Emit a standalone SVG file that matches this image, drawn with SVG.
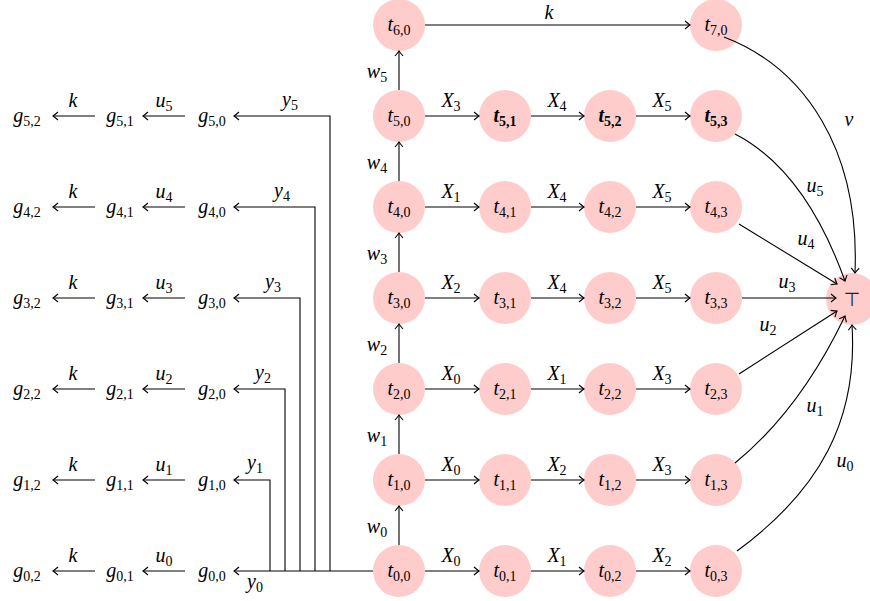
<svg xmlns="http://www.w3.org/2000/svg" width="870" height="601" viewBox="0 0 870 601" font-family="'Liberation Serif','DejaVu Serif',serif">
<style>
.n{fill:#ffcccc}
.t{font-family:'Liberation Serif','DejaVu Serif',serif;font-size:20px;text-anchor:middle;fill:#000}
.i{font-style:italic}
.s{font-size:14px;font-style:normal}
.b{font-weight:bold}
.c line,.c path{stroke:#000;stroke-width:1.1;fill:none;marker-end:url(#ar)}
</style>
<defs>
<marker id="ar" markerUnits="userSpaceOnUse" markerWidth="12" markerHeight="12" viewBox="-7 -6 9 12" refX="0" refY="0" orient="auto" overflow="visible">
<path d="M-5,-4 Q-1.5,-1 0,0 Q-1.5,1 -5,4" fill="none" stroke="#000" stroke-width="1.1"/>
</marker>
</defs>
<rect width="870" height="601" fill="#fff"/>

<g id="nodes">
<g id="t60"><circle class="n" cx="399" cy="25" r="26"/><text class="t" x="399" y="31"><tspan class="i">t</tspan><tspan class="s" dy="4">6,0</tspan></text></g>
<g id="t70"><circle class="n" cx="716" cy="25" r="26"/><text class="t" x="716" y="31"><tspan class="i">t</tspan><tspan class="s" dy="4">7,0</tspan></text></g>
<g id="t50"><circle class="n" cx="399" cy="116" r="26"/><text class="t" x="399" y="122"><tspan class="i">t</tspan><tspan class="s" dy="4">5,0</tspan></text></g>
<g id="t51"><circle class="n" cx="505" cy="116" r="26"/><text class="t b" x="505" y="122"><tspan class="i">t</tspan><tspan class="s" dy="4">5,1</tspan></text></g>
<g id="t52"><circle class="n" cx="610" cy="116" r="26"/><text class="t b" x="610" y="122"><tspan class="i">t</tspan><tspan class="s" dy="4">5,2</tspan></text></g>
<g id="t53"><circle class="n" cx="716" cy="116" r="26"/><text class="t b" x="716" y="122"><tspan class="i">t</tspan><tspan class="s" dy="4">5,3</tspan></text></g>
<g id="t40"><circle class="n" cx="399" cy="207" r="26"/><text class="t" x="399" y="213"><tspan class="i">t</tspan><tspan class="s" dy="4">4,0</tspan></text></g>
<g id="t41"><circle class="n" cx="505" cy="207" r="26"/><text class="t" x="505" y="213"><tspan class="i">t</tspan><tspan class="s" dy="4">4,1</tspan></text></g>
<g id="t42"><circle class="n" cx="610" cy="207" r="26"/><text class="t" x="610" y="213"><tspan class="i">t</tspan><tspan class="s" dy="4">4,2</tspan></text></g>
<g id="t43"><circle class="n" cx="716" cy="207" r="26"/><text class="t" x="716" y="213"><tspan class="i">t</tspan><tspan class="s" dy="4">4,3</tspan></text></g>
<g id="t30"><circle class="n" cx="399" cy="298" r="26"/><text class="t" x="399" y="304"><tspan class="i">t</tspan><tspan class="s" dy="4">3,0</tspan></text></g>
<g id="t31"><circle class="n" cx="505" cy="298" r="26"/><text class="t" x="505" y="304"><tspan class="i">t</tspan><tspan class="s" dy="4">3,1</tspan></text></g>
<g id="t32"><circle class="n" cx="610" cy="298" r="26"/><text class="t" x="610" y="304"><tspan class="i">t</tspan><tspan class="s" dy="4">3,2</tspan></text></g>
<g id="t33"><circle class="n" cx="716" cy="298" r="26"/><text class="t" x="716" y="304"><tspan class="i">t</tspan><tspan class="s" dy="4">3,3</tspan></text></g>
<g id="t20"><circle class="n" cx="399" cy="389" r="26"/><text class="t" x="399" y="395"><tspan class="i">t</tspan><tspan class="s" dy="4">2,0</tspan></text></g>
<g id="t21"><circle class="n" cx="505" cy="389" r="26"/><text class="t" x="505" y="395"><tspan class="i">t</tspan><tspan class="s" dy="4">2,1</tspan></text></g>
<g id="t22"><circle class="n" cx="610" cy="389" r="26"/><text class="t" x="610" y="395"><tspan class="i">t</tspan><tspan class="s" dy="4">2,2</tspan></text></g>
<g id="t23"><circle class="n" cx="716" cy="389" r="26"/><text class="t" x="716" y="395"><tspan class="i">t</tspan><tspan class="s" dy="4">2,3</tspan></text></g>
<g id="t10"><circle class="n" cx="399" cy="480" r="26"/><text class="t" x="399" y="486"><tspan class="i">t</tspan><tspan class="s" dy="4">1,0</tspan></text></g>
<g id="t11"><circle class="n" cx="505" cy="480" r="26"/><text class="t" x="505" y="486"><tspan class="i">t</tspan><tspan class="s" dy="4">1,1</tspan></text></g>
<g id="t12"><circle class="n" cx="610" cy="480" r="26"/><text class="t" x="610" y="486"><tspan class="i">t</tspan><tspan class="s" dy="4">1,2</tspan></text></g>
<g id="t13"><circle class="n" cx="716" cy="480" r="26"/><text class="t" x="716" y="486"><tspan class="i">t</tspan><tspan class="s" dy="4">1,3</tspan></text></g>
<g id="t00"><circle class="n" cx="399" cy="571" r="26"/><text class="t" x="399" y="577"><tspan class="i">t</tspan><tspan class="s" dy="4">0,0</tspan></text></g>
<g id="t01"><circle class="n" cx="505" cy="571" r="26"/><text class="t" x="505" y="577"><tspan class="i">t</tspan><tspan class="s" dy="4">0,1</tspan></text></g>
<g id="t02"><circle class="n" cx="610" cy="571" r="26"/><text class="t" x="610" y="577"><tspan class="i">t</tspan><tspan class="s" dy="4">0,2</tspan></text></g>
<g id="t03"><circle class="n" cx="716" cy="571" r="26"/><text class="t" x="716" y="577"><tspan class="i">t</tspan><tspan class="s" dy="4">0,3</tspan></text></g>
<g id="top"><circle class="n" cx="852" cy="299" r="26"/><text x="852" y="306" font-family="'DejaVu Sans',sans-serif" font-size="19" text-anchor="middle" fill="#222">⊤</text></g>

<g id="g52"><text class="t" x="27" y="122"><tspan class="i">g</tspan><tspan class="s" dy="4">5,2</tspan></text></g>
<g id="g51"><text class="t" x="120" y="122"><tspan class="i">g</tspan><tspan class="s" dy="4">5,1</tspan></text></g>
<g id="g50"><text class="t" x="212" y="122"><tspan class="i">g</tspan><tspan class="s" dy="4">5,0</tspan></text></g>
<g id="g42"><text class="t" x="27" y="213"><tspan class="i">g</tspan><tspan class="s" dy="4">4,2</tspan></text></g>
<g id="g41"><text class="t" x="120" y="213"><tspan class="i">g</tspan><tspan class="s" dy="4">4,1</tspan></text></g>
<g id="g40"><text class="t" x="212" y="213"><tspan class="i">g</tspan><tspan class="s" dy="4">4,0</tspan></text></g>
<g id="g32"><text class="t" x="27" y="304"><tspan class="i">g</tspan><tspan class="s" dy="4">3,2</tspan></text></g>
<g id="g31"><text class="t" x="120" y="304"><tspan class="i">g</tspan><tspan class="s" dy="4">3,1</tspan></text></g>
<g id="g30"><text class="t" x="212" y="304"><tspan class="i">g</tspan><tspan class="s" dy="4">3,0</tspan></text></g>
<g id="g22"><text class="t" x="27" y="395"><tspan class="i">g</tspan><tspan class="s" dy="4">2,2</tspan></text></g>
<g id="g21"><text class="t" x="120" y="395"><tspan class="i">g</tspan><tspan class="s" dy="4">2,1</tspan></text></g>
<g id="g20"><text class="t" x="212" y="395"><tspan class="i">g</tspan><tspan class="s" dy="4">2,0</tspan></text></g>
<g id="g12"><text class="t" x="27" y="486"><tspan class="i">g</tspan><tspan class="s" dy="4">1,2</tspan></text></g>
<g id="g11"><text class="t" x="120" y="486"><tspan class="i">g</tspan><tspan class="s" dy="4">1,1</tspan></text></g>
<g id="g10"><text class="t" x="212" y="486"><tspan class="i">g</tspan><tspan class="s" dy="4">1,0</tspan></text></g>
<g id="g02"><text class="t" x="27" y="577"><tspan class="i">g</tspan><tspan class="s" dy="4">0,2</tspan></text></g>
<g id="g01"><text class="t" x="120" y="577"><tspan class="i">g</tspan><tspan class="s" dy="4">0,1</tspan></text></g>
<g id="g00"><text class="t" x="212" y="577"><tspan class="i">g</tspan><tspan class="s" dy="4">0,0</tspan></text></g>
</g>

<g id="connectors" class="c">
<line x1="425" y1="25" x2="690" y2="25"/>
<line x1="399" y1="545" x2="399" y2="506"/>
<line x1="399" y1="454" x2="399" y2="415"/>
<line x1="399" y1="363" x2="399" y2="324"/>
<line x1="399" y1="272" x2="399" y2="233"/>
<line x1="399" y1="181" x2="399" y2="142"/>
<line x1="399" y1="90" x2="399" y2="51"/>
<line x1="425" y1="116" x2="479" y2="116"/><line x1="531" y1="116" x2="584" y2="116"/><line x1="636" y1="116" x2="690" y2="116"/>
<line x1="425" y1="207" x2="479" y2="207"/><line x1="531" y1="207" x2="584" y2="207"/><line x1="636" y1="207" x2="690" y2="207"/>
<line x1="425" y1="298" x2="479" y2="298"/><line x1="531" y1="298" x2="584" y2="298"/><line x1="636" y1="298" x2="690" y2="298"/>
<line x1="425" y1="389" x2="479" y2="389"/><line x1="531" y1="389" x2="584" y2="389"/><line x1="636" y1="389" x2="690" y2="389"/>
<line x1="425" y1="480" x2="479" y2="480"/><line x1="531" y1="480" x2="584" y2="480"/><line x1="636" y1="480" x2="690" y2="480"/>
<line x1="425" y1="571" x2="479" y2="571"/><line x1="531" y1="571" x2="584" y2="571"/><line x1="636" y1="571" x2="690" y2="571"/>
<path d="M724,37 C805,68 860,150 855,273"/>
<path d="M735,134 Q805,170 845,281"/>
<line x1="739" y1="224" x2="837" y2="284"/>
<line x1="742" y1="298" x2="836" y2="298"/>
<line x1="739" y1="374" x2="837" y2="311"/>
<path d="M735,463 Q800,410 845,316"/>
<path d="M737,551 C820,490 858,420 852,325"/>
<line x1="373" y1="571" x2="234" y2="571"/>
<path d="M330,571 V116 H234"/>
<path d="M315,571 V207 H234"/>
<path d="M300,571 V298 H234"/>
<path d="M285,571 V389 H234"/>
<path d="M270,571 V480 H234"/>
<line x1="185" y1="116" x2="143" y2="116"/><line x1="95" y1="116" x2="53" y2="116"/>
<line x1="185" y1="207" x2="143" y2="207"/><line x1="95" y1="207" x2="53" y2="207"/>
<line x1="185" y1="298" x2="143" y2="298"/><line x1="95" y1="298" x2="53" y2="298"/>
<line x1="185" y1="389" x2="143" y2="389"/><line x1="95" y1="389" x2="53" y2="389"/>
<line x1="185" y1="480" x2="143" y2="480"/><line x1="95" y1="480" x2="53" y2="480"/>
<line x1="185" y1="571" x2="143" y2="571"/><line x1="95" y1="571" x2="53" y2="571"/>
</g>

<g id="labels" class="t">
<text x="549" y="19" class="i">k</text>
<text x="377" y="78"><tspan class="i">w</tspan><tspan class="s" dy="4">5</tspan></text>
<text x="377" y="169"><tspan class="i">w</tspan><tspan class="s" dy="4">4</tspan></text>
<text x="377" y="260"><tspan class="i">w</tspan><tspan class="s" dy="4">3</tspan></text>
<text x="377" y="351"><tspan class="i">w</tspan><tspan class="s" dy="4">2</tspan></text>
<text x="377" y="442"><tspan class="i">w</tspan><tspan class="s" dy="4">1</tspan></text>
<text x="377" y="533"><tspan class="i">w</tspan><tspan class="s" dy="4">0</tspan></text>

<text x="451" y="107"><tspan class="i">X</tspan><tspan class="s" dy="4">3</tspan></text>
<text x="557" y="107"><tspan class="i">X</tspan><tspan class="s" dy="4">4</tspan></text>
<text x="662" y="107"><tspan class="i">X</tspan><tspan class="s" dy="4">5</tspan></text>
<text x="451" y="198"><tspan class="i">X</tspan><tspan class="s" dy="4">1</tspan></text>
<text x="557" y="198"><tspan class="i">X</tspan><tspan class="s" dy="4">4</tspan></text>
<text x="662" y="198"><tspan class="i">X</tspan><tspan class="s" dy="4">5</tspan></text>
<text x="451" y="289"><tspan class="i">X</tspan><tspan class="s" dy="4">2</tspan></text>
<text x="557" y="289"><tspan class="i">X</tspan><tspan class="s" dy="4">4</tspan></text>
<text x="662" y="289"><tspan class="i">X</tspan><tspan class="s" dy="4">5</tspan></text>
<text x="451" y="380"><tspan class="i">X</tspan><tspan class="s" dy="4">0</tspan></text>
<text x="557" y="380"><tspan class="i">X</tspan><tspan class="s" dy="4">1</tspan></text>
<text x="662" y="380"><tspan class="i">X</tspan><tspan class="s" dy="4">3</tspan></text>
<text x="451" y="471"><tspan class="i">X</tspan><tspan class="s" dy="4">0</tspan></text>
<text x="557" y="471"><tspan class="i">X</tspan><tspan class="s" dy="4">2</tspan></text>
<text x="662" y="471"><tspan class="i">X</tspan><tspan class="s" dy="4">3</tspan></text>
<text x="451" y="562"><tspan class="i">X</tspan><tspan class="s" dy="4">0</tspan></text>
<text x="557" y="562"><tspan class="i">X</tspan><tspan class="s" dy="4">1</tspan></text>
<text x="662" y="562"><tspan class="i">X</tspan><tspan class="s" dy="4">2</tspan></text>

<text x="849" y="126" class="i">v</text>
<text x="815" y="192"><tspan class="i">u</tspan><tspan class="s" dy="4">5</tspan></text>
<text x="806" y="245"><tspan class="i">u</tspan><tspan class="s" dy="4">4</tspan></text>
<text x="787" y="288"><tspan class="i">u</tspan><tspan class="s" dy="4">3</tspan></text>
<text x="768" y="331"><tspan class="i">u</tspan><tspan class="s" dy="4">2</tspan></text>
<text x="815" y="412"><tspan class="i">u</tspan><tspan class="s" dy="4">1</tspan></text>
<text x="845" y="467"><tspan class="i">u</tspan><tspan class="s" dy="4">0</tspan></text>

<text x="290" y="106"><tspan class="i">y</tspan><tspan class="s" dy="4">5</tspan></text>
<text x="282" y="197"><tspan class="i">y</tspan><tspan class="s" dy="4">4</tspan></text>
<text x="273" y="288"><tspan class="i">y</tspan><tspan class="s" dy="4">3</tspan></text>
<text x="263" y="379"><tspan class="i">y</tspan><tspan class="s" dy="4">2</tspan></text>
<text x="255" y="469"><tspan class="i">y</tspan><tspan class="s" dy="4">1</tspan></text>
<text x="255" y="588"><tspan class="i">y</tspan><tspan class="s" dy="4">0</tspan></text>

<text x="73" y="107" class="i">k</text><text x="164" y="107"><tspan class="i">u</tspan><tspan class="s" dy="4">5</tspan></text>
<text x="73" y="198" class="i">k</text><text x="164" y="198"><tspan class="i">u</tspan><tspan class="s" dy="4">4</tspan></text>
<text x="73" y="289" class="i">k</text><text x="164" y="289"><tspan class="i">u</tspan><tspan class="s" dy="4">3</tspan></text>
<text x="73" y="380" class="i">k</text><text x="164" y="380"><tspan class="i">u</tspan><tspan class="s" dy="4">2</tspan></text>
<text x="73" y="471" class="i">k</text><text x="164" y="471"><tspan class="i">u</tspan><tspan class="s" dy="4">1</tspan></text>
<text x="73" y="562" class="i">k</text><text x="164" y="562"><tspan class="i">u</tspan><tspan class="s" dy="4">0</tspan></text>
</g>
</svg>
